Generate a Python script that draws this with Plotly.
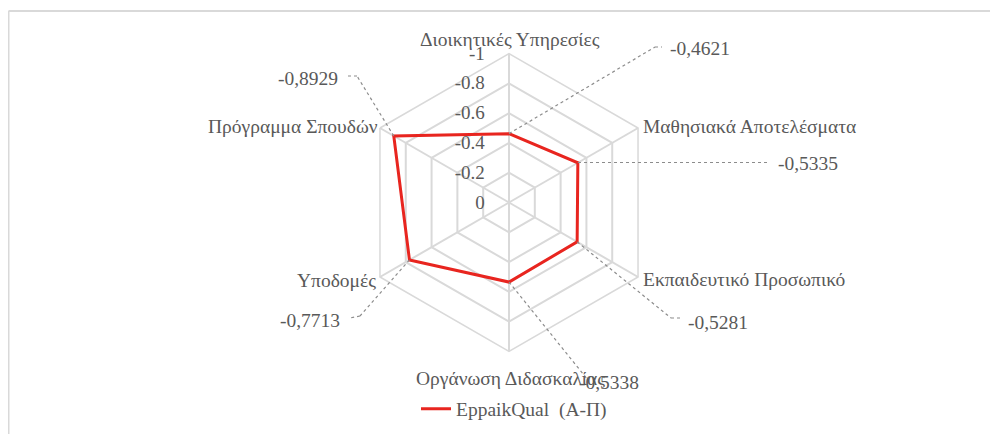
import math
import plotly.graph_objects as go

# ---------------- data ----------------
categories = [
    "Διοικητικές Υπηρεσίες",
    "Μαθησιακά Αποτελέσματα",
    "Εκπαιδευτικό Προσωπικό",
    "Οργάνωση Διδασκαλίας",
    "Υποδομές",
    "Πρόγραμμα Σπουδών",
]
values = [-0.4621, -0.5335, -0.5281, -0.5338, -0.7713, -0.8929]
series_name = "EppaikQual  (Α-Π)"
radial_tick_values = [0, -0.2, -0.4, -0.6, -0.8, -1]
radial_tick_labels = ["0", "-0.2", "-0.4", "-0.6", "-0.8", "-1"]

# ---------------- layout constants ----------------
OFF = 8                               # page body margin offset
W, H = 998 - OFF, 434 - OFF
CX, CY, R = 509, 202.5, 149           # polar centre / radius (reference px)
TEXT = "#595959"
GRID = "#d9d9d9"
RED = "#e8251f"
FONT = "Liberation Serif"
FS = 19.5

# category label placement: (x, y, xanchor) in reference px
cat_pos = [
    (510, 39, "center"),
    (641, 127, "left"),
    (641, 279, "left"),
    (510, 378, "center"),
    (378, 280, "right"),
    (380, 126, "right"),
]

# leader-line geometry per category: (elbow, end, label x, label y, anchor)
leaders = [
    ((655, 47), (662, 47), 668, 49, "left"),
    ((578, 162.5), (767, 162.5), 776, 163, "left"),
    ((671, 318), (682, 318), 686, 322, "left"),
    ((588, 380), (588, 380), 577, 382, "left"),
    ((360, 316), (350, 318), 342, 320, "right"),
    ((357, 76), (348, 76), 340, 79, "right"),
]


def px(x, y):
    return (x - OFF) / W, 1 - (y - OFF) / H


fig = go.Figure()
fig.add_trace(go.Scatterpolar(
    r=values + [values[0]],
    theta=categories + [categories[0]],
    mode="lines",
    line=dict(color=RED, width=3),
    name=series_name,
))

fx0, fy0 = px(8.5, 11)
shapes = [
    dict(type="line", xref="paper", yref="paper",
         x0=fx0, x1=1, y0=fy0, y1=fy0, line=dict(color=GRID, width=2)),
    dict(type="line", xref="paper", yref="paper",
         x0=fx0, x1=fx0, y0=0, y1=fy0, line=dict(color=GRID, width=2)),
]
annotations = []
for cat, (cx_, cy_, anc) in zip(categories, cat_pos):
    ax, ay = px(cx_, cy_)
    annotations.append(dict(
        x=ax, y=ay, xref="paper", yref="paper", showarrow=False,
        xanchor=anc, yanchor="middle", text=cat,
        font=dict(family=FONT, size=FS, color=TEXT),
    ))

n = len(categories)
for i, (v, (elb, end, lx, ly, anc)) in enumerate(zip(values, leaders)):
    ang = 2 * math.pi * i / n
    rr = abs(v) * R
    pxx = CX + rr * math.sin(ang)
    pyy = CY - rr * math.cos(ang)
    pts = [(pxx, pyy), elb, end]
    for (x0, y0), (x1, y1) in zip(pts[:-1], pts[1:]):
        if (x0, y0) == (x1, y1):
            continue
        a0, b0 = px(x0, y0)
        a1, b1 = px(x1, y1)
        shapes.append(dict(type="line", xref="paper", yref="paper",
                           x0=a0, y0=b0, x1=a1, y1=b1,
                           line=dict(color="#8c8c8c", width=1.2, dash="dot")))
    ax, ay = px(lx, ly)
    annotations.append(dict(
        x=ax, y=ay, xref="paper", yref="paper", showarrow=False,
        xanchor=anc, yanchor="middle",
        text=f"{v:.4f}".replace(".", ","),
        font=dict(family=FONT, size=FS, color=TEXT),
    ))

dx0, dy1 = px(CX - 200, CY - R)
dx1, dy0 = px(CX + 200, CY + R)
lgx, lgy = px(514, 409)

fig.update_layout(
    width=W, height=H,
    margin=dict(l=0, r=0, t=0, b=0),
    paper_bgcolor="white",
    font=dict(family=FONT, size=FS, color=TEXT),
    polar=dict(
        domain=dict(x=[dx0, dx1], y=[dy0, dy1]),
        bgcolor="white",
        gridshape="linear",
        angularaxis=dict(
            direction="clockwise", rotation=90,
            showline=True, linecolor=GRID, linewidth=1.5,
            gridcolor=GRID, gridwidth=1.5,
            ticks="", showticklabels=False,
        ),
        radialaxis=dict(
            range=[0, -1],
            tickvals=radial_tick_values,
            ticktext=radial_tick_labels,
            angle=90, side="counterclockwise", tickangle=90,
            showline=False,
            ticks="outside", ticklen=17, tickcolor="rgba(0,0,0,0)",
            gridcolor=GRID, gridwidth=1.5,
            tickfont=dict(family=FONT, size=19, color=TEXT),
        ),
    ),
    showlegend=True,
    legend=dict(orientation="h", x=lgx, xanchor="center",
                y=lgy, yanchor="middle",
                font=dict(family=FONT, size=FS, color=TEXT)),
    shapes=shapes,
    annotations=annotations,
)

fig.write_html("out.html")
